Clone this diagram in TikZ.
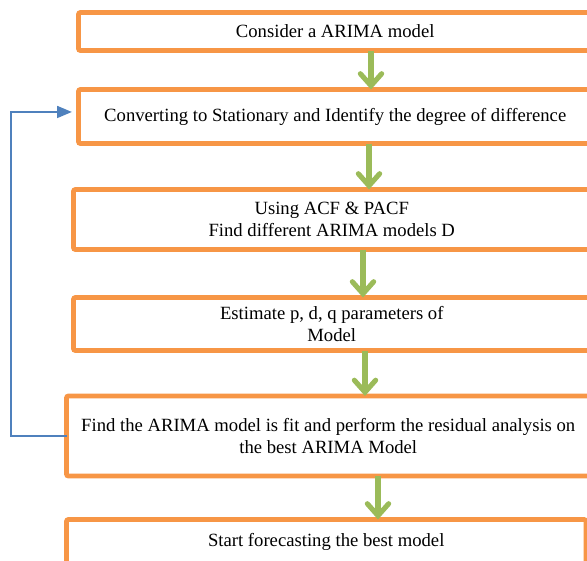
\documentclass[tikz,border=0pt]{standalone}
\usepackage{fontspec}
\setmainfont{Liberation Serif}
\usepackage{tikz}
\usetikzlibrary{arrows.meta}
\definecolor{arimaorange}{HTML}{F79646}
\definecolor{arimagreen}{HTML}{9BBB59}
\definecolor{arimablue}{HTML}{4F81BD}
\tikzset{
  box/.style={draw=arimaorange,line width=3.6pt,rounded corners=1.5pt,fill=white,align=center,anchor=north west,inner sep=0pt,outer sep=0pt,font=\fontsize{14}{16.5}\selectfont},
  ar/.style={-{Straight Barb[length=9pt,width=16pt,line cap=round]},draw=arimagreen,line width=3.8pt},
  back/.style={-{Triangle[length=11pt,width=9pt]},draw=arimablue,line width=1.1pt,shorten >=5pt},
}
\begin{document}
\begin{tikzpicture}[x=0.75pt,y=-0.75pt]
  \path[use as bounding box,clip] (0,0) rectangle (587,561);
  \node[box,minimum width=385.1pt,minimum height=28.5pt] (b1) at (78.5,12.5) {Consider a ARIMA model};
  \node[box,minimum width=385.1pt,minimum height=40.5pt] (b2) at (78.5,89.5) {Converting to Stationary and Identify the degree of difference};
  \node[box,minimum width=387.4pt,minimum height=45pt] (b3) at (73.5,189.5) {Using ACF \& PACF\\Find different ARIMA models D};
  \node[box,minimum width=387.4pt,minimum height=39.75pt] (b4) at (73.5,297.5) {Estimate p, d, q parameters of\\Model};
  \node[box,minimum width=392.6pt,minimum height=60pt] (b5) at (66.5,396) {Find the ARIMA model is fit and perform the residual analysis on\\the best ARIMA Model};
  \node[box,minimum width=389.6pt,minimum height=34.1pt] (b6) at (66.5,519.5) {Start forecasting the best model};
  \draw[ar] (b1.south -| 371,0) -- (b2.north -| 371,0);
  \draw[ar] (b2.south -| 369,0) -- (b3.north -| 369,0);
  \draw[ar] (b3.south -| 363,0) -- (b4.north -| 363,0);
  \draw[ar] (b4.south -| 365,0) -- (b5.north -| 365,0);
  \draw[ar] (b5.south -| 378,0) -- (b6.north -| 378,0);
  \draw[back] (b5.west) -- ++(-55.5,0) |- ([yshift=3.4pt]b2.west);
\end{tikzpicture}
\end{document}
